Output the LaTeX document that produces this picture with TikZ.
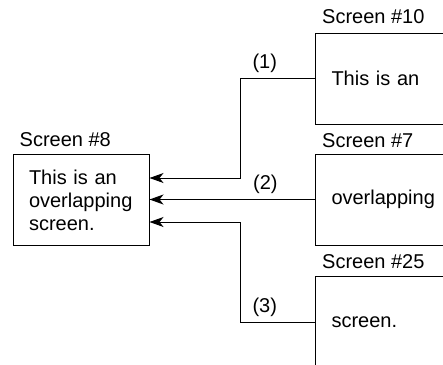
\documentclass[tikz,border=0pt]{standalone}
\usepackage{fontspec}
\setmainfont{Liberation Sans}
\usetikzlibrary{arrows.meta,positioning}
\newcommand{\scrfont}{\fontsize{20}{23}\selectfont}
\tikzset{
  scrbox/.style={draw,line width=1pt,minimum width=136pt,minimum height=91pt,
    inner xsep=16pt,text width=104pt,align=left,font=\scrfont},
  scrtitle/.style={anchor=base west,inner sep=0pt,font=\scrfont},
  lbl/.style={above=5pt,inner sep=0pt,font=\scrfont},
  link/.style={line width=1pt,-{Stealth[length=14pt,width=10pt,inset=4pt]}}
}

\begin{document}
\begin{tikzpicture}[x=1pt,y=-1pt]
\useasboundingbox (0,0) rectangle (443,364);
\clip (0,0) rectangle (443,364);
% screens
\node[scrbox] (scr8) at (81,200) {This is an\\overlapping\\screen.};
\node[scrbox,anchor=west] (scr10) at (315,78.5) {This is an};
\node[scrbox,anchor=west] (scr7) at (315,199.5) {overlapping};
\node[scrbox,anchor=west] (scr25) at (315,322) {screen.};
% titles
\node[scrtitle] (t8) at ([xshift=7pt,yshift=8pt]scr8.north west) {Screen \#8};
\node[scrtitle] (t10) at ([xshift=7pt,yshift=9pt]scr10.north west) {Screen \#10};
\node[scrtitle] (t7) at ([xshift=7pt,yshift=6pt]scr7.north west) {Screen \#7};
\node[scrtitle] (t25) at ([xshift=7pt,yshift=8pt]scr25.north west) {Screen \#25};
% links
\draw[link] (scr10.west) -- node[lbl,pos=0.67] (l1) {(1)} ++(-75,0)
  |- ([yshift=22pt]scr8.east);
\draw[link] (scr7.west) -- node[lbl,pos=0.3] (l2) {(2)} (scr7.west -| scr8.east);
\draw[link] (scr25.west) -- node[lbl,pos=0.67] (l3) {(3)} ++(-75,0)
  |- ([yshift=-22pt]scr8.east);
\end{tikzpicture}
\end{document}
